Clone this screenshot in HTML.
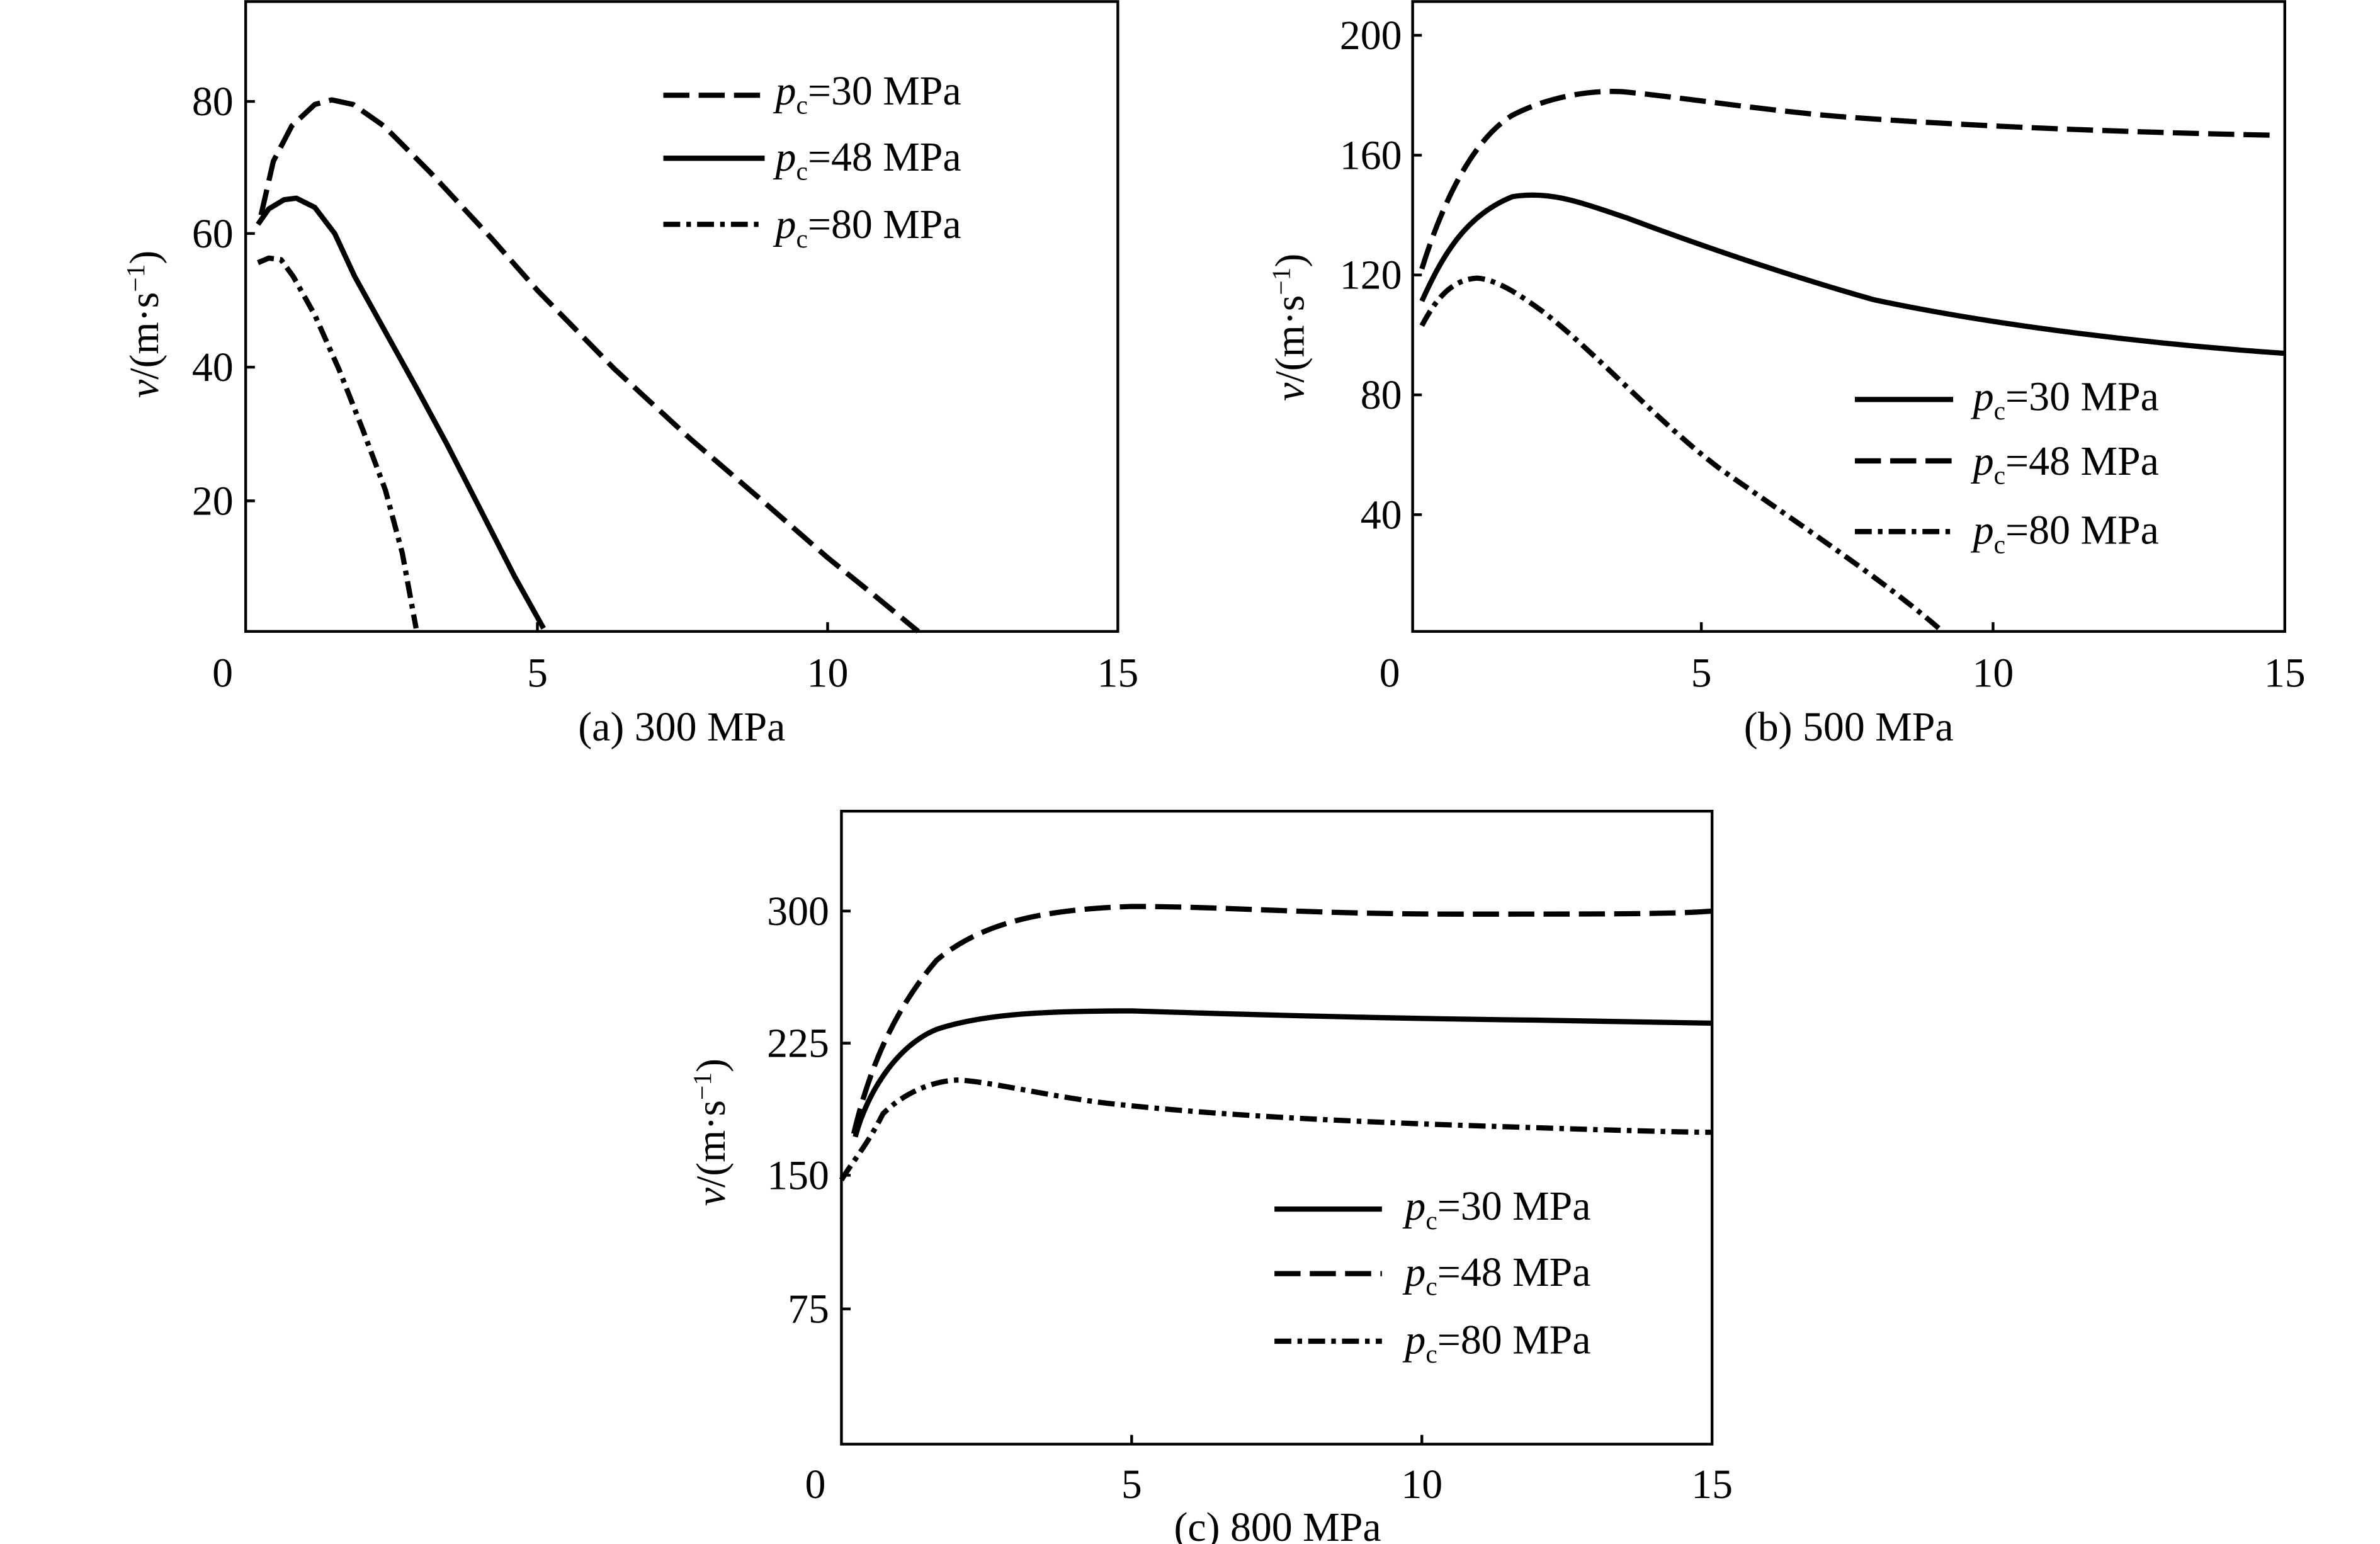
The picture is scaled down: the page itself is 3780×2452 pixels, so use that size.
<!DOCTYPE html>
<html><head><meta charset="utf-8"><style>
html,body{margin:0;padding:0;background:#fff;}
svg{display:block;}
text{font-family:"Liberation Serif",serif;fill:#000;}
</style></head><body>
<svg width="3780" height="2452" viewBox="0 0 1550 1005" preserveAspectRatio="none" xmlns="http://www.w3.org/2000/svg">
<g fill="none" stroke="#000" stroke-width="1.8">
<rect x="160" y="1" width="568" height="410"/>
<rect x="920" y="1" width="568" height="410"/>
<rect x="548" y="528" width="567" height="412"/>
<path d="M350 411v-6M539 411v-6M160 326h6M160 239h6M160 152h6M160 66h6"/>
<path d="M1108 411v-6M1298 411v-6M920 335h6M920 257h6M920 179h6M920 101h6M920 23h6"/>
<path d="M737 940v-6M926 940v-6M548 852h6M548 765h6M548 679h6M548 593h6"/>
</g>
<g font-size="27" text-anchor="middle">
<text x="145" y="447">0</text><text x="350" y="447">5</text><text x="539" y="447">10</text><text x="728" y="447">15</text>
<text x="905" y="447">0</text><text x="1108" y="447">5</text><text x="1298" y="447">10</text><text x="1488" y="447">15</text>
<text x="531" y="975">0</text><text x="737" y="975">5</text><text x="926" y="975">10</text><text x="1115" y="975">15</text>
</g>
<g font-size="27" text-anchor="end">
<text x="152" y="75">80</text><text x="152" y="161">60</text><text x="152" y="248">40</text><text x="152" y="335">20</text>
<text x="913" y="32">200</text><text x="913" y="110">160</text><text x="913" y="188">120</text><text x="913" y="266">80</text><text x="913" y="344">40</text>
<text x="540" y="602">300</text><text x="540" y="688">225</text><text x="540" y="774">150</text><text x="540" y="861">75</text>
</g>
<g font-size="27" text-anchor="middle">
<text x="444" y="482">(a) 300 MPa</text>
<text x="1204" y="482">(b) 500 MPa</text>
<text x="832" y="1003">(c) 800 MPa</text>
</g>
<g font-size="27" text-anchor="middle">
<text transform="translate(103,211) rotate(-90)"><tspan font-style="italic">v</tspan>/(m·s<tspan dy="-9" font-size="17">−1</tspan><tspan dy="9">)</tspan></text>
<text transform="translate(849,213) rotate(-90)"><tspan font-style="italic">v</tspan>/(m·s<tspan dy="-9" font-size="17">−1</tspan><tspan dy="9">)</tspan></text>
<text transform="translate(472,737) rotate(-90)"><tspan font-style="italic">v</tspan>/(m·s<tspan dy="-9" font-size="17">−1</tspan><tspan dy="9">)</tspan></text>
</g>
<g fill="none" stroke="#000" stroke-width="3.4" stroke-linejoin="round" stroke-linecap="butt">
<polyline stroke-dasharray="17 6" points="170,140 178,105 190,82 205,68 216,65 230,68 250,82 280,112 320,155 350,189 400,240 450,286 500,329 539,363 570,388 598,411"/>
<polyline points="168,146 175,136 185,130 193,129 205,135 218,152 231,180 251,216 271,252 291,289 311,328 335,375 354,409"/>
<polyline stroke-dasharray="11 4 3 4" points="168,171 175,168 183,169 191,180 205,205 221,241 236,279 251,319 262,360 271,409"/>
<path stroke-dasharray="17 6" d="M926 175 C940 130 960 90 985 75 C1010 62 1040 58 1060 60 C1100 64 1150 72 1200 76 C1280 82 1380 86 1480 88"/>
<path d="M926 196 C940 165 955 140 985 128 C1010 124 1030 132 1060 142 C1108 160 1160 178 1220 195 C1300 212 1400 224 1488 230"/>
<path stroke-dasharray="11 4 3 4" d="M926 212 C935 195 945 182 962 181 C975 182 990 192 1005 203 C1040 230 1080 275 1120 305 C1170 340 1230 380 1265 411"/>
<path stroke-dasharray="17 6" d="M556 738 C565 700 580 660 610 625 C640 600 680 592 737 590 C800 590 850 595 950 595 C1050 595 1090 595 1115 593"/>
<path d="M557 740 C565 710 585 680 610 670 C640 660 680 658 737 658 C800 660 900 663 1000 664 C1060 665 1100 666 1115 666"/>
<path stroke-dasharray="11 4 3 4" d="M548 768 C556 755 565 745 575 725 C590 710 610 703 625 703 C650 705 680 713 720 718 C800 727 900 731 1000 734 C1060 736 1100 737 1115 737"/>
<path stroke-dasharray="17 6" d="M432 62h66"/><path d="M432 103h66"/><path stroke-dasharray="11 4 3 4" d="M432 146h66"/>
<path d="M1208 260h64"/><path stroke-dasharray="17 6" d="M1208 300h64"/><path stroke-dasharray="11 4 3 4" d="M1208 346h64"/>
<path d="M830 787h70"/><path stroke-dasharray="17 6" d="M830 829h70"/><path stroke-dasharray="11 4 3 4" d="M830 873h70"/>
</g>
<g font-size="27">
<text x="505" y="68"><tspan font-style="italic">p</tspan><tspan font-size="17" dy="6">c</tspan><tspan dy="-6">=30 MPa</tspan></text>
<text x="505" y="111"><tspan font-style="italic">p</tspan><tspan font-size="17" dy="6">c</tspan><tspan dy="-6">=48 MPa</tspan></text>
<text x="505" y="155"><tspan font-style="italic">p</tspan><tspan font-size="17" dy="6">c</tspan><tspan dy="-6">=80 MPa</tspan></text>
<text x="1285" y="267"><tspan font-style="italic">p</tspan><tspan font-size="17" dy="6">c</tspan><tspan dy="-6">=30 MPa</tspan></text>
<text x="1285" y="309"><tspan font-style="italic">p</tspan><tspan font-size="17" dy="6">c</tspan><tspan dy="-6">=48 MPa</tspan></text>
<text x="1285" y="354"><tspan font-style="italic">p</tspan><tspan font-size="17" dy="6">c</tspan><tspan dy="-6">=80 MPa</tspan></text>
<text x="915" y="794"><tspan font-style="italic">p</tspan><tspan font-size="17" dy="6">c</tspan><tspan dy="-6">=30 MPa</tspan></text>
<text x="915" y="837"><tspan font-style="italic">p</tspan><tspan font-size="17" dy="6">c</tspan><tspan dy="-6">=48 MPa</tspan></text>
<text x="915" y="881"><tspan font-style="italic">p</tspan><tspan font-size="17" dy="6">c</tspan><tspan dy="-6">=80 MPa</tspan></text>
</g>
</svg>
</body></html>
